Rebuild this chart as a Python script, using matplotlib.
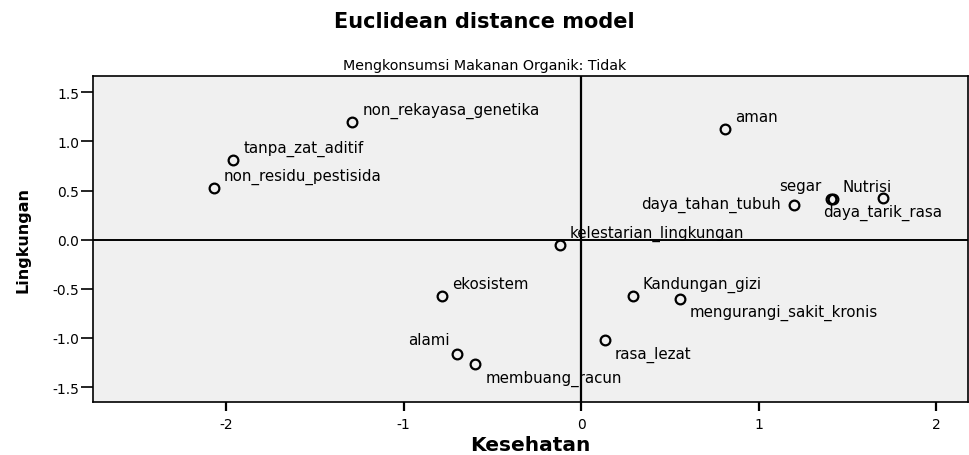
import matplotlib
matplotlib.use('Agg')
import matplotlib.pyplot as plt
import numpy as np

plt.rcParams['font.family'] = ['DejaVu Sans']
plt.rcParams['axes.unicode_minus'] = False

# stimulus coordinates (dimension 1 = Kesehatan, dimension 2 = Lingkungan)
labels = ['non_rekayasa_genetika', 'tanpa_zat_aditif', 'non_residu_pestisida',
          'aman', 'segar', 'Nutrisi', 'daya_tarik_rasa', 'daya_tahan_tubuh',
          'kelestarian_lingkungan', 'ekosistem', 'alami', 'membuang_racun',
          'Kandungan_gizi', 'mengurangi_sakit_kronis', 'rasa_lezat']
dim1 = [-1.29, -1.96, -2.07, 0.81, 1.41, 1.417, 1.70, 1.20,
        -0.12, -0.785, -0.70, -0.60, 0.29, 0.555, 0.135]
dim2 = [1.195, 0.81, 0.53, 1.13, 0.415, 0.418, 0.425, 0.355,
        -0.055, -0.57, -1.16, -1.265, -0.57, -0.605, -1.02]

xticks = [-2, -1, 0, 1, 2]
yticks = [-1.5, -1.0, -0.5, 0.0, 0.5, 1.0, 1.5]

# label placement: (dx px, dy px, ha)
place = {
    'segar': (-10, 13, 'right'),
    'daya_tarik_rasa': (0, -14, 'center'),
    'daya_tahan_tubuh': (-13, 1, 'right'),
    'alami': (-7, 14, 'right'),
    'membuang_racun': (11, -14, 'left'),
    'mengurangi_sakit_kronis': (10, -13, 'left'),
    'rasa_lezat': (10, -14, 'left'),
}

fig = plt.figure(figsize=(9.69, 4.56), dpi=100)
ax = fig.add_axes([0.096, 0.1156, 0.903, 0.7149])
ax.set_facecolor('#f0f0f0')

ax.axhline(0, color='black', lw=1.4, zorder=1)
ax.axvline(0, color='black', lw=1.6, zorder=1)

ax.plot(dim1, dim2, 'o', ms=7, mfc='none', mec='black', mew=1.6, zorder=3)

for name, x, y in zip(labels, dim1, dim2):
    dx, dy, ha = place.get(name, (10, 12, 'left'))
    ax.annotate(name, (x, y), xytext=(dx, dy), textcoords='offset pixels',
                ha=ha, va='center', fontsize=10.8, zorder=4)

ax.set_xlim(-2.75, 2.18)
ax.set_ylim(-1.654, 1.662)
ax.set_xticks(xticks)
ax.set_yticks(yticks)
ax.set_yticklabels(['%.1f' % v for v in yticks])
ax.tick_params(axis='x', length=6.5, width=1.6, pad=4, labelsize=10)
ax.tick_params(axis='y', length=9, width=1.2, pad=1, labelsize=10)
for s in ax.spines.values():
    s.set_linewidth(1.2)

ax.set_xlabel('Kesehatan', fontsize=14.5, fontweight='bold', labelpad=3)
ax.set_ylabel('Lingkungan', fontsize=11.5, fontweight='bold', labelpad=16)

fig.text(0.5, 0.951, 'Euclidean distance model', ha='center', va='center',
         fontsize=15, fontweight='bold')
fig.text(0.5, 0.855, 'Mengkonsumsi Makanan Organik: Tidak', ha='center',
         va='center', fontsize=10.3)

fig.savefig('out.png', dpi=100)
